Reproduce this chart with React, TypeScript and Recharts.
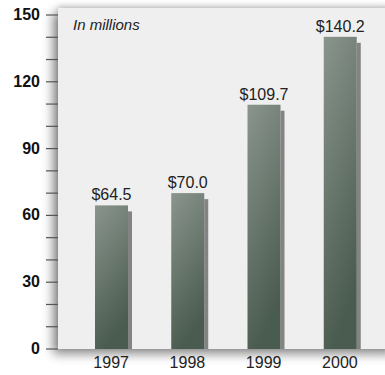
import { BarChart, Bar, XAxis, YAxis, LabelList } from "recharts";

const years = ["1997", "1998", "1999", "2000"];
const revenue = [64.5, 70.0, 109.7, 140.2];
const majorTicks = [0, 30, 60, 90, 120, 150];
const allTicks = [0, 10, 20, 30, 40, 50, 60, 70, 80, 90, 100, 110, 120, 130, 140, 150];

const data = years.map((year, i) => ({ year, revenue: revenue[i] }));
const FONT = "'Liberation Sans', Arial, sans-serif";

const ShadowBar = (props: any) => {
  const { x, y, width, height } = props;
  return (
    <g>
      <rect x={x + width} y={y + 6} width={4} height={Math.max(height - 6, 0)} fill="#838383" />
      <rect x={x} y={y} width={width} height={height} fill="url(#barGrad)" />
    </g>
  );
};

// only the major ticks get a label, minor ones keep just the tick line
const YTick = (props: any) => {
  const { x, y, payload } = props;
  if (!majorTicks.includes(payload.value)) return null;
  return (
    <text x={x} y={y} dy={5} textAnchor="end" fontSize={16} fontWeight={700} fill="#111" fontFamily={FONT}>
      {payload.value}
    </text>
  );
};

export default function App() {
  return (
    <div style={{ position: "absolute", left: 0, top: 0, width: 385, height: 375, background: "#fff", overflow: "hidden" }}>
      <div
        style={{
          position: "absolute",
          left: 58,
          top: 8,
          width: 340,
          height: 341,
          background: "#efefef",
          boxShadow: "-5px 5px 10px rgba(0,0,0,0.45), 0 -2px 6px rgba(0,0,0,0.2)",
        }}
      />
      <div
        style={{
          position: "absolute",
          left: 73,
          top: 16,
          fontFamily: FONT,
          fontStyle: "italic",
          fontSize: 15,
          color: "#222",
        }}
      >
        In millions
      </div>
      <BarChart
        width={385}
        height={375}
        data={data}
        margin={{ top: 15, right: 7, bottom: 0, left: 0 }}
        style={{ position: "absolute", left: 0, top: 0 }}
      >
        <defs>
          <linearGradient id="barGrad" x1="0" y1="0" x2="0.3" y2="1">
            <stop offset="0%" stopColor="#8a958d" />
            <stop offset="100%" stopColor="#4a5b4f" />
          </linearGradient>
        </defs>
        <XAxis
          dataKey="year"
          axisLine={false}
          tickLine={false}
          height={26}
          padding={{ left: 15, right: 0 }}
          tick={{ fontSize: 16, fill: "#222", fontFamily: FONT }}
          tickMargin={2}
        />
        <YAxis
          domain={[0, 150]}
          ticks={allTicks}
          interval={0}
          width={58}
          axisLine={false}
          tickLine={{ stroke: "#555", strokeWidth: 1.2 }}
          tickSize={12}
          tickMargin={6}
          tick={<YTick />}
        />
        <Bar dataKey="revenue" barSize={33} shape={ShadowBar} isAnimationActive={false}>
          <LabelList
            dataKey="revenue"
            position="top"
            offset={5}
            formatter={(v: any) => `$${Number(v).toFixed(1)}`}
            style={{ fontSize: 16, fill: "#222", fontFamily: FONT }}
          />
        </Bar>
      </BarChart>
    </div>
  );
}
